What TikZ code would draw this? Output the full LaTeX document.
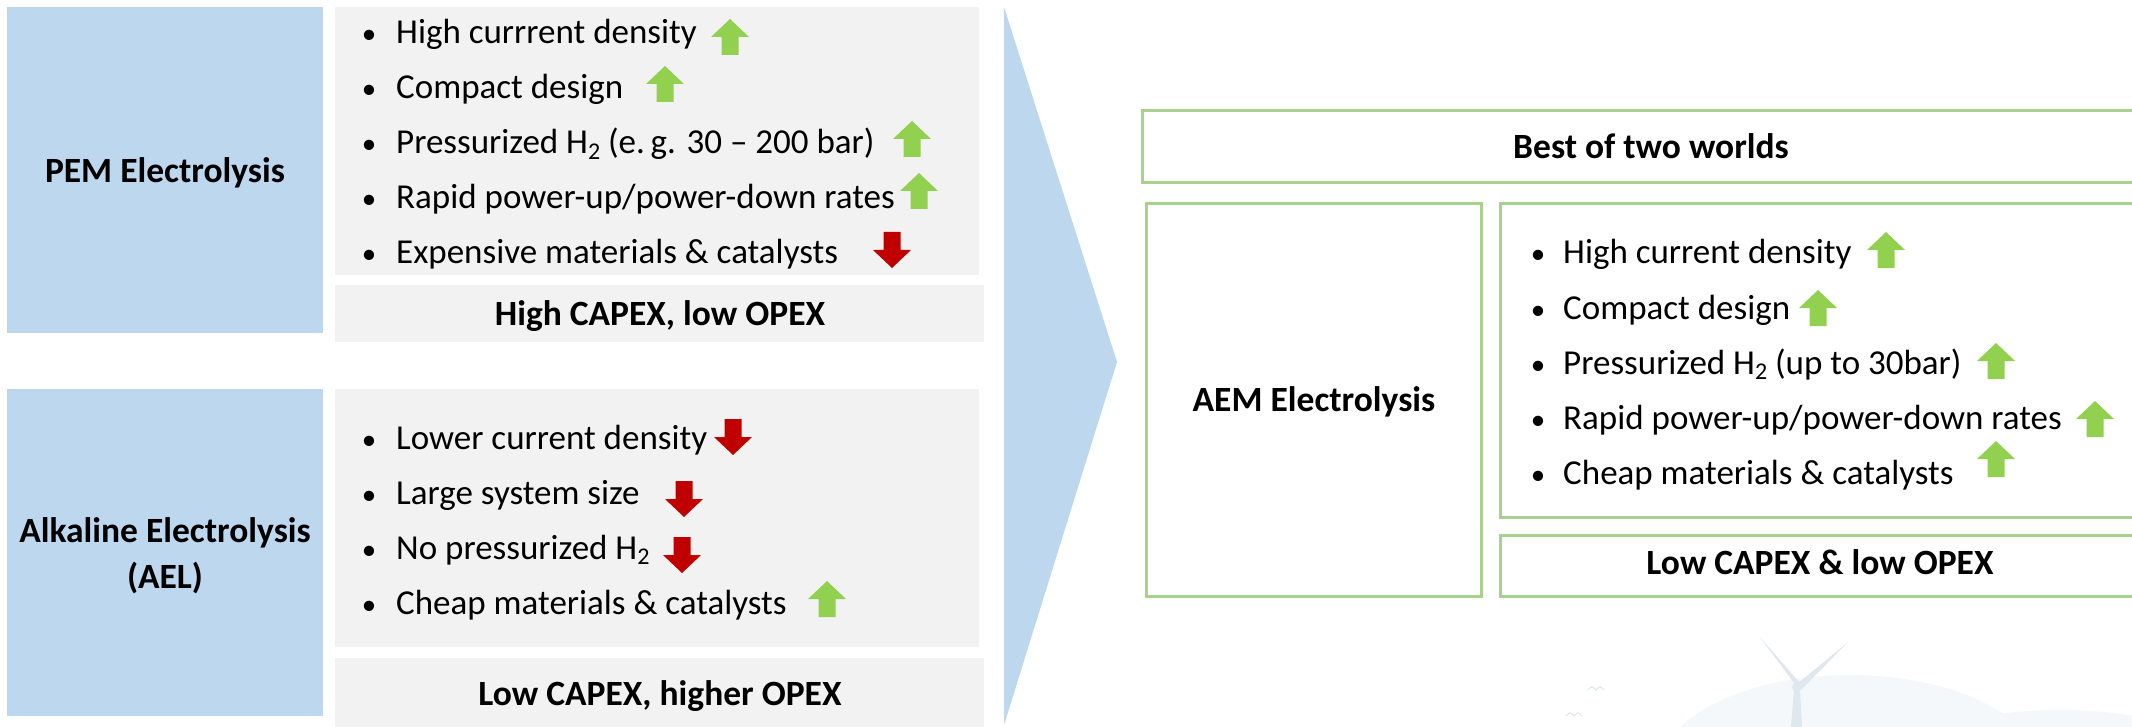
\documentclass[tikz,border=0pt]{standalone}
\usepackage{fontspec}
\setmainfont{Carlito}
\definecolor{panelblue}{HTML}{BDD7EE}
\definecolor{panelgray}{HTML}{F2F2F2}
\definecolor{framegreen}{HTML}{A9D18E}
\definecolor{upgreen}{HTML}{92D050}
\definecolor{downred}{HTML}{C00000}
\definecolor{hazeblue}{HTML}{DFE8EE}
\definecolor{hazehill}{HTML}{F4F8FA}

\tikzset{
  pics/uparrow/.style={code={
    \fill[upgreen] (-8.5,0) -- (8.5,0) -- (8.5,-18) -- (19,-18) -- (0,-36)
      -- (-19,-18) -- (-8.5,-18) -- cycle;}},
  pics/downarrow/.style={code={
    \fill[downred] (-8.5,0) -- (8.5,0) -- (8.5,18) -- (19,18) -- (0,36)
      -- (-19,18) -- (-8.5,18) -- cycle;}},
}
\newcommand{\lowtwo}{\raisebox{-0.3ex}{\fontsize{24}{24}\selectfont 2}}

\begin{document}
\begin{tikzpicture}[x=1pt,y=-1pt,
  panel/.style={rectangle, inner sep=0pt, outer sep=0pt},
  bluepanel/.style={panel, fill=panelblue},
  graypanel/.style={panel, fill=panelgray},
  greenframe/.style={panel, draw=framegreen, line width=3pt},
  item/.style={inner sep=0pt, font=\fontsize{35}{42}\selectfont, anchor=base west},
  dot/.style={inner sep=0pt, font=\fontsize{29}{35}\selectfont, anchor=base},
  title/.style={inner sep=0pt, font=\fontsize{35.5}{43}\selectfont\bfseries, anchor=base}]

\useasboundingbox (0,0) rectangle (2132,727);
\clip (0,0) rectangle (2132,727);

% faint landscape in the background
\fill[hazehill] (1850,770) ellipse [x radius=190, y radius=95];
\fill[hazehill] (2060,770) ellipse [x radius=170, y radius=60];
\fill[hazeblue] (1794,690) -- (1800,690) -- (1802,727) -- (1791,727) -- cycle;
\fill[hazeblue] (1797,687) -- (1759,636) -- (1800,683) -- cycle;
\fill[hazeblue] (1797,684) -- (1848,642) -- (1801,690) -- cycle;
\fill[hazeblue] (1797,687) circle (5);
\draw[hazeblue, line width=1.2pt] (1588,690) .. controls (1592,686) .. (1596,690) .. controls (1600,686) .. (1604,690);
\draw[hazeblue, line width=1.2pt] (1566,716) .. controls (1570,712) .. (1574,716) .. controls (1578,712) .. (1582,716);

% left panels
\node[bluepanel, minimum width=316pt, minimum height=326pt] (pembox) at (165,170) {};
\node[graypanel, minimum width=644pt, minimum height=268pt] (pemlist) at (657,141) {};
\node[graypanel, minimum width=649pt, minimum height=57pt] (pemcost) at (659.5,313.5) {};

\node[bluepanel, minimum width=316pt, minimum height=327pt] (aelbox) at (165,552.5) {};
\node[graypanel, minimum width=644pt, minimum height=258pt] (aellist) at (657,518) {};
\node[graypanel, minimum width=649pt, minimum height=80pt] (aelcost) at (659.5,698) {};

% transition wedge
\fill[panelblue] (1004,7) -- (1117,362) -- (1004,725) -- cycle;

% right frames
\node[greenframe, minimum width=998pt, minimum height=72pt] (best) at (1641,147) {};
\node[greenframe, minimum width=335pt, minimum height=392pt] (aembox) at (1313.5,400) {};
\node[greenframe, minimum width=640pt, minimum height=313pt] (aemlist) at (1820,360.5) {};
\node[greenframe, minimum width=640pt, minimum height=61pt] (aemcost) at (1820,565.5) {};

% titles
\node[title] (pemtitle) at (165,183) {PEM Electrolysis};
\node[title] (aeltitle) at (165,542) {Alkaline Electrolysis};
\node[title] (aelabbr) at (165,588) {(AEL)};
\node[title] (pemcosttext) at (660,325) {High CAPEX, low OPEX};
\node[title] (aelcosttext) at (660,705) {Low CAPEX, higher OPEX};
\node[title] (besttext) at (1651,159) {Best of two worlds};
\node[title] (aemtitle) at (1314,411) {AEM Electrolysis};
\node[title] (aemcosttext) at (1820,574) {Low CAPEX \& low OPEX};

% PEM list
\foreach \yy [count=\i] in {44,99,154,209,264}
  \node[dot] (pemdot\i) at (369,\yy) {•};
\node[item] (pem1) at (396,44) {High currrent density};
\node[item] (pem2) at (396,99) {Compact design};
\node[item] (pem3) at (396,154) {Pressurized H\lowtwo\ (e.\,g. 30 – 200 bar)};
\node[item] (pem4) at (396,209) {Rapid power-up/power-down rates};
\node[item] (pem5) at (396,264) {Expensive materials \& catalysts};
\pic at (730,55) {uparrow};
\pic at (665,102) {uparrow};
\pic at (912,157) {uparrow};
\pic at (919,209) {uparrow};
\pic at (892,232) {downarrow};

% AEL list
\foreach \yy [count=\i] in {449,504,559,614}
  \node[dot] (aeldot\i) at (369,\yy) {•};
\node[item] (ael1) at (396,449) {Lower current density};
\node[item] (ael2) at (396,504) {Large system size};
\node[item] (ael3) at (396,559) {No pressurized H\lowtwo};
\node[item] (ael4) at (396,614) {Cheap materials \& catalysts};
\pic at (733,419) {downarrow};
\pic at (684,481) {downarrow};
\pic at (682,537) {downarrow};
\pic at (827,617) {uparrow};

% AEM list
\foreach \yy [count=\i] in {264,319,374,429,484}
  \node[dot] (aemdot\i) at (1538,\yy) {•};
\node[item] (aem1) at (1563,264) {High current density};
\node[item] (aem2) at (1563,319) {Compact design};
\node[item] (aem3) at (1563,374) {Pressurized H\lowtwo\ (up to 30bar)};
\node[item] (aem4) at (1563,429) {Rapid power-up/power-down rates};
\node[item] (aem5) at (1563,484) {Cheap materials \& catalysts};
\pic at (1886,268) {uparrow};
\pic at (1818,326) {uparrow};
\pic at (1996,379) {uparrow};
\pic at (2095,437) {uparrow};
\pic at (1996,477) {uparrow};

\end{tikzpicture}
\end{document}
